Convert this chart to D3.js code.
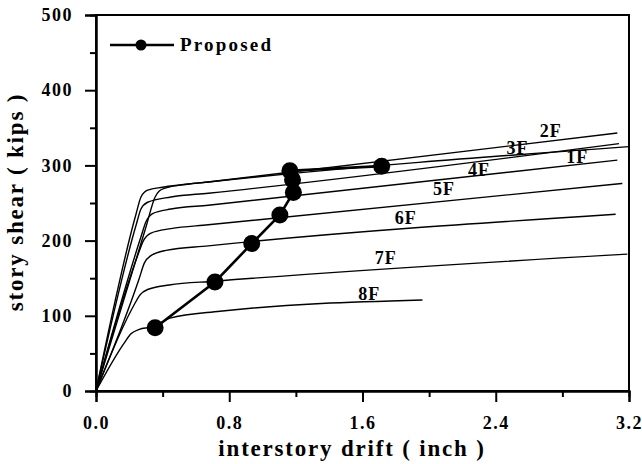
<!DOCTYPE html>
<html><head><meta charset="utf-8">
<script src="https://cdn.jsdelivr.net/npm/d3@7"></script>
<style>
body{margin:0;background:#fff;}
text{font-family:"Liberation Serif","Times New Roman",serif;font-weight:bold;fill:#000;}
</style></head>
<body><svg id="c" width="642" height="464"></svg>
<script>
// ---- data (interstory drift [inch], story shear [kips]) ----
const stories = ["1F","2F","3F","4F","5F","6F","7F","8F"];
const curve1F = [[0,0],[0.30,218],[0.355,258],[0.38,266],[0.42,270],[0.55,275],[0.674,278],[3.2,325]];
const curve2F = [[0,0],[0.24,235],[0.27,258],[0.31,267],[0.40,271],[0.674,278],[3.13,343]];
const curve3F = [[0,0],[0.24,220],[0.27,242],[0.31,251],[0.45,258],[0.674,263],[3.14,329]];
const curve4F = [[0,0],[0.27,205],[0.30,225],[0.34,236],[0.45,242],[0.674,247],[3.13,307]];
const curve5F = [[0,0],[0.25,180],[0.285,200],[0.33,210],[0.45,216],[0.674,221],[3.16,276]];
const curve6F = [[0,0],[0.26,150],[0.29,170],[0.33,180],[0.42,187],[0.674,193],[3.12,235]];
const curve7F = [[0,0],[0.23,115],[0.265,128],[0.31,135],[0.44,141],[0.714,146],[3.19,182]];
const curve8F = [[0,0],[0.17,64],[0.21,76],[0.26,82],[0.33,85],[0.40,92],[0.444,97],[0.744,106],[1.96,121]];
const curves = [curve1F,curve2F,curve3F,curve4F,curve5F,curve6F,curve7F,curve8F];
// story label anchor (drift, shear)
const labelAt = [[2.89,311],[2.73,346],[2.53,324],[2.30,294],[2.09,269],[1.86,230],[1.74,177],[1.64,130]];
// proposed method points, story 8F -> 1F
const proposedDrift = [0.355,0.714,0.935,1.104,1.185,1.18,1.164,1.715];
const proposedShear = [84,145,196,234,264,281,293,299];
const xMajor = [0.0,0.8,1.6,2.4,3.2];
const xMinor = [0.4,1.2,2.0,2.8];
const yMajor = [0,100,200,300,400,500];
const yMinor = [50,150,250,350,450];

// ---- drawing ----
const svg = d3.select("#c");
const L=96,R=629,T=15,B=391;
const x = d3.scaleLinear().domain([0,3.2]).range([L,R]);
const y = d3.scaleLinear().domain([0,500]).range([B,T]);

// curves
const line = d3.line().x(d=>x(d[0])).y(d=>y(d[1])).curve(d3.curveMonotoneX);
svg.append("g").selectAll("path").data(curves).join("path")
  .attr("d",line).attr("fill","none").attr("stroke","#000").attr("stroke-width",1.4);

// story labels
svg.append("g").selectAll("text").data(stories).join("text")
  .attr("x",(d,i)=>x(labelAt[i][0])).attr("y",(d,i)=>y(labelAt[i][1]))
  .attr("dy","0.35em").attr("text-anchor","middle")
  .style("font-size","18px").style("letter-spacing","1px").text(d=>d);

// proposed
const prop = proposedDrift.map((d,i)=>[d,proposedShear[i]]);
svg.append("path").attr("d",d3.line().x(d=>x(d[0])).y(d=>y(d[1]))(prop))
  .attr("fill","none").attr("stroke","#000").attr("stroke-width",2.6);
svg.append("g").selectAll("circle").data(prop).join("circle")
  .attr("cx",d=>x(d[0])).attr("cy",d=>y(d[1])).attr("r",8.5).attr("fill","#000");

// frame
svg.append("rect").attr("x",L).attr("y",T).attr("width",R-L).attr("height",B-T)
  .attr("fill","none").attr("stroke","#000").attr("stroke-width",2);

// axes
const fmtX = d3.format(".1f");
svg.append("g").attr("transform",`translate(0,${B})`)
  .call(d3.axisBottom(x).tickValues(xMajor).tickFormat(fmtX).tickSize(11).tickPadding(14));
svg.append("g").attr("transform",`translate(0,${B})`)
  .call(d3.axisBottom(x).tickValues(xMinor).tickFormat("").tickSize(6));
svg.append("g").attr("transform",`translate(${L},0)`)
  .call(d3.axisLeft(y).tickValues(yMajor).tickSize(11).tickPadding(12));
svg.append("g").attr("transform",`translate(${L},0)`)
  .call(d3.axisLeft(y).tickValues(yMinor).tickFormat("").tickSize(6));
svg.selectAll(".domain").attr("stroke-width",2);
svg.selectAll(".tick line").attr("stroke-width",2);
svg.selectAll(".tick text").style("font-size","18px").style("letter-spacing","1.5px")
  .style("font-family","Liberation Serif").style("font-weight","bold");

// axis titles
svg.append("text").attr("x",352).attr("y",456).attr("text-anchor","middle")
  .style("font-size","23px").style("letter-spacing","1.8px").text("interstory drift ( inch )");
svg.append("text").attr("transform","translate(23,202) rotate(-90)").attr("text-anchor","middle")
  .style("font-size","23px").style("letter-spacing","1.8px").text("story shear ( kips )");

// legend
svg.append("line").attr("x1",110).attr("x2",174).attr("y1",45).attr("y2",45)
  .attr("stroke","#000").attr("stroke-width",2.6);
svg.append("circle").attr("cx",141).attr("cy",45).attr("r",5.5).attr("fill","#000");
svg.append("text").attr("x",180).attr("y",51).style("font-size","19px")
  .style("letter-spacing","2.2px").text("Proposed");
</script></body></html>
